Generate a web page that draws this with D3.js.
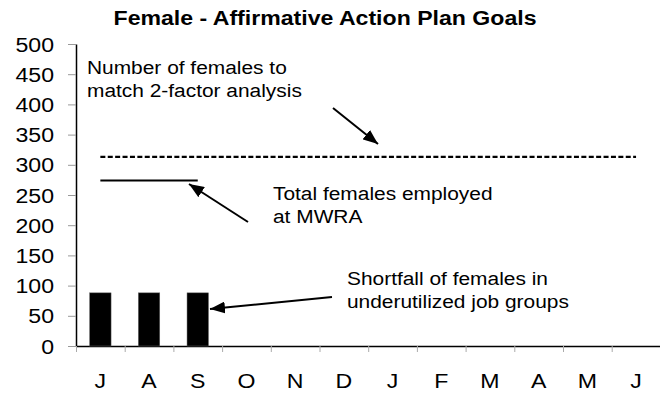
<!DOCTYPE html>
<html>
<head>
<meta charset="utf-8">
<script src="https://cdn.jsdelivr.net/npm/d3@7"></script>
<style>
  html, body { margin: 0; padding: 0; background: #fff; }
  svg { display: block; font-family: "Liberation Sans", Arial, sans-serif; }
</style>
</head>
<body>
<svg id="chart"></svg>
<script>
// chart values
const months = ['J', 'A', 'S', 'O', 'N', 'D', 'J', 'F', 'M', 'A', 'M', 'J'];
const shortfall = [88, 88, 88];          // bars, underutilized job groups
const employed = [274, 274, 274];        // solid line
const goal = [313, 313, 313, 313, 313, 313, 313, 313, 313, 313, 313, 313]; // dashed line
const yTicks = [0, 50, 100, 150, 200, 250, 300, 350, 400, 450, 500];

const width = 660;
const height = 394;
const sx = 1.1; // the picture is a bit stretched sideways

const svg = d3.select('#chart').attr('width', width).attr('height', height);

const plotLeft = 76, plotRight = 660.4, plotTop = 44, plotBottom = 346;

// scales
const x = d3.scaleBand()
  .domain(d3.range(months.length))
  .range([plotLeft, plotRight])
  .padding(0);

const xEdge = d3.scaleLinear()
  .domain([0, months.length])
  .range([plotLeft, plotRight]);

const y = d3.scaleLinear()
  .domain([0, 500])
  .range([plotBottom, plotTop]);

// helper for stretched text
function label(g, txt, px, py, size, anchor, weight) {
  return g.append('text')
    .attr('transform', `translate(${px},${py}) scale(${sx},1)`)
    .attr('text-anchor', anchor || 'start')
    .attr('font-size', size)
    .attr('font-weight', weight || 'normal')
    .attr('fill', '#000')
    .text(txt);
}

// title
label(svg, 'Female - Affirmative Action Plan Goals', 325, 25, 21, 'middle', 'bold');

// y axis
const yAxis = svg.append('g')
  .attr('transform', `translate(${plotLeft},0)`)
  .call(d3.axisLeft(y).tickValues(yTicks).tickSize(8).tickSizeOuter(0).tickFormat(''));
yAxis.select('.domain').attr('stroke', '#000').attr('stroke-width', 1.5);
yAxis.selectAll('.tick line').attr('stroke', '#999');

yTicks.forEach(v => {
  label(svg, String(v), 54, y(v) + 7.5, 21, 'end');
});

// x axis: boundary ticks and month labels
const xAxis = svg.append('g')
  .attr('transform', `translate(0,${plotBottom})`)
  .call(d3.axisBottom(xEdge).tickValues(d3.range(months.length + 1)).tickSize(6).tickSizeOuter(0).tickFormat(''));
xAxis.select('.domain').attr('stroke', '#000').attr('stroke-width', 1.5);
xAxis.selectAll('.tick line').attr('stroke', '#aaa');

months.forEach((m, i) => {
  label(svg, m, x(i) + x.bandwidth() / 2, 388, 21, 'middle');
});

// bars
const barW = x.bandwidth() * 0.44;
svg.selectAll('.bar')
  .data(shortfall)
  .enter()
  .append('rect')
  .attr('class', 'bar')
  .attr('x', (d, i) => x(i) + (x.bandwidth() - barW) / 2)
  .attr('y', d => y(d))
  .attr('width', barW)
  .attr('height', d => y(0) - y(d))
  .attr('fill', '#000')
  .attr('stroke', '#666')
  .attr('stroke-width', 0.5);

// lines
const line = d3.line()
  .x((d, i) => x(i) + x.bandwidth() / 2)
  .y(d => y(d));

svg.append('path')
  .datum(goal)
  .attr('d', line)
  .attr('fill', 'none')
  .attr('stroke', '#000')
  .attr('stroke-width', 2.2)
  .attr('stroke-dasharray', '5,2.4');

svg.append('path')
  .datum(employed)
  .attr('d', line)
  .attr('fill', 'none')
  .attr('stroke', '#000')
  .attr('stroke-width', 2.2);

// arrowhead
svg.append('defs').append('marker')
  .attr('id', 'head')
  .attr('viewBox', '0 0 15 12')
  .attr('refX', 15)
  .attr('refY', 6)
  .attr('markerWidth', 15)
  .attr('markerHeight', 12)
  .attr('markerUnits', 'userSpaceOnUse')
  .attr('orient', 'auto')
  .append('path')
  .attr('d', 'M0,0 L15,6 L0,12 Z')
  .attr('fill', '#000');

function arrow(x1, y1, x2, y2) {
  svg.append('line')
    .attr('x1', x1).attr('y1', y1)
    .attr('x2', x2).attr('y2', y2)
    .attr('stroke', '#000')
    .attr('stroke-width', 2)
    .attr('marker-end', 'url(#head)');
}

// annotations
label(svg, 'Number of females to', 87, 74, 19);
label(svg, 'match 2-factor analysis', 87, 97, 19);
arrow(333, 108, 378, 144);

label(svg, 'Total females employed', 273, 200, 19);
label(svg, 'at MWRA', 273, 223, 19);
arrow(248, 222, 189, 184);

label(svg, 'Shortfall of females in', 347, 285, 19);
label(svg, 'underutilized job groups', 347, 308, 19);
arrow(332, 297, 210, 309);
</script>
</body>
</html>
